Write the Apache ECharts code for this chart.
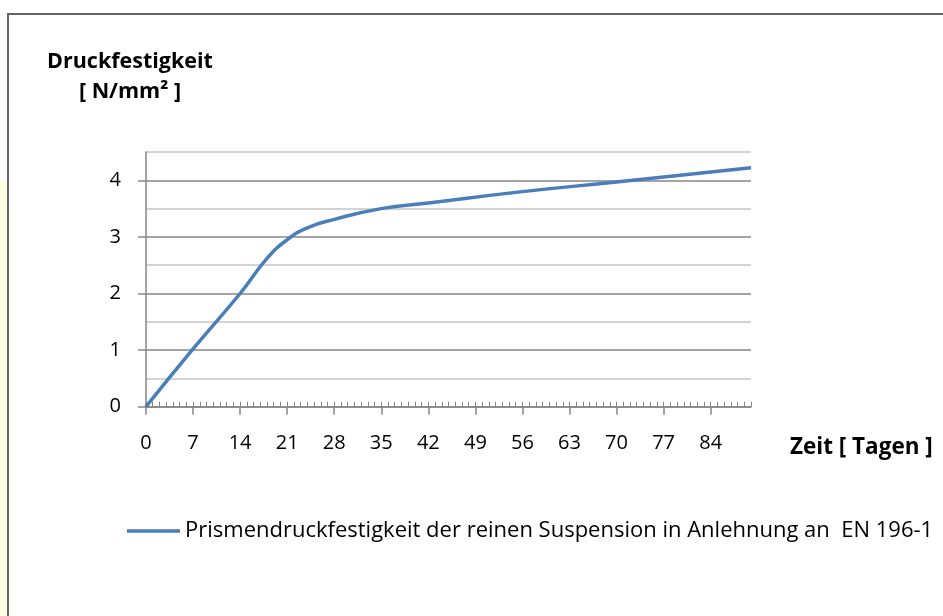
<!DOCTYPE html>
<html>
<head>
<meta charset="utf-8">
<script src="https://cdn.jsdelivr.net/npm/echarts@6/dist/echarts.min.js"></script>
<style>
html,body{margin:0;padding:0;background:#fff;}
#chart{width:943px;height:616px;}
</style>
</head>
<body>
<div id="chart"></div>
<script>
// ---- data ----
var days   = [0, 7, 14, 18, 21, 24, 28, 35, 42, 56, 70, 90];
var values = [0, 1.02, 2.0, 2.62, 2.95, 3.16, 3.31, 3.5, 3.6, 3.8, 3.97, 4.22];
var xTicks = [0, 7, 14, 21, 28, 35, 42, 49, 56, 63, 70, 77, 84];
var yTicks = [0, 1, 2, 3, 4];
var seriesName = 'Prismendruckfestigkeit der reinen Suspension in Anlehnung an  EN 196-1';
var yTitle = ['Druckfestigkeit', '[ N/mm\u00B2 ]'];
var xTitle = 'Zeit [ Tagen ]';

var FONT = 'Open Sans';
var points = days.map(function (d, i) { return [d, values[i]]; });

var chart = echarts.init(document.getElementById('chart'), null, {renderer: 'canvas'});
chart.setOption({
  backgroundColor: '#ffffff',
  animation: false,
  textStyle: {fontFamily: FONT},
  grid: {left: 146, top: 152, width: 605, bottom: 209.3, containLabel: false},
  legend: {
    left: 127, top: 520, padding: 0,
    itemWidth: 53, itemHeight: 3.5,
    textStyle: {fontFamily: FONT, fontSize: 22, color: '#000'},
    data: [{name: seriesName, icon: 'rect'}]
  },
  xAxis: [{
    type: 'value', min: 0, max: 90, interval: 7,
    axisLine: {show: true, lineStyle: {color: '#868686', width: 1.5}},
    axisTick: {show: true, inside: false, length: 8, lineStyle: {color: '#868686', width: 1.5}, customValues: xTicks},
    axisLabel: {show: true, margin: 27, fontFamily: FONT, fontSize: 20, color: '#000', customValues: xTicks},
    splitLine: {show: false}
  }, {
    type: 'value', min: 0, max: 90, interval: 1, position: 'bottom', offset: 0,
    axisLine: {show: false},
    axisTick: {show: true, inside: true, length: 5, lineStyle: {color: '#868686', width: 1}},
    axisLabel: {show: false},
    splitLine: {show: false}
  }],
  yAxis: [{
    type: 'value', min: 0, max: 4.5, interval: 0.5,
    axisLine: {show: true, lineStyle: {color: '#868686', width: 1.5}},
    axisTick: {show: true, inside: false, length: 8, lineStyle: {color: '#868686', width: 1.5}, customValues: yTicks},
    axisLabel: {show: true, margin: 25, fontFamily: FONT, fontSize: 20, color: '#000', customValues: yTicks},
    splitLine: {show: false}
  }, {
    type: 'value', min: 0, max: 4.5, interval: 0.5, position: 'left', offset: 0,
    axisLine: {show: false}, axisTick: {show: false}, axisLabel: {show: false},
    splitLine: {show: true, lineStyle: {color: ['#868686', '#c4c4c4'], width: 1.5}}
  }],
  series: [{
    name: seriesName,
    type: 'line',
    xAxisIndex: 0, yAxisIndex: 0,
    data: points,
    smooth: 0.5,
    symbol: 'none',
    lineStyle: {color: '#4a7ebb', width: 3.5},
    itemStyle: {color: '#4a7ebb'}
  }],
  graphic: [
    {type: 'rect', left: 0, top: 180, shape: {width: 7, height: 436}, style: {fill: '#fffde3'}, silent: true},
    {type: 'rect', shape: {x: 8, y: 14, width: 960, height: 640}, style: {fill: 'none', stroke: '#646464', lineWidth: 2}, silent: true},
    {type: 'text', x: 130, y: 62, style: {text: yTitle[0], fontFamily: FONT, fontWeight: 'bold', fontSize: 21.5, fill: '#000', align: 'center', verticalAlign: 'middle'}},
    {type: 'text', x: 130, y: 92, style: {text: yTitle[1], fontFamily: FONT, fontWeight: 'bold', fontSize: 21.5, fill: '#000', align: 'center', verticalAlign: 'middle'}},
    {type: 'text', x: 790, y: 448, style: {text: xTitle, fontFamily: FONT, fontWeight: 'bold', fontSize: 22.5, fill: '#000', align: 'left', verticalAlign: 'middle'}}
  ]
});
</script>
</body>
</html>
